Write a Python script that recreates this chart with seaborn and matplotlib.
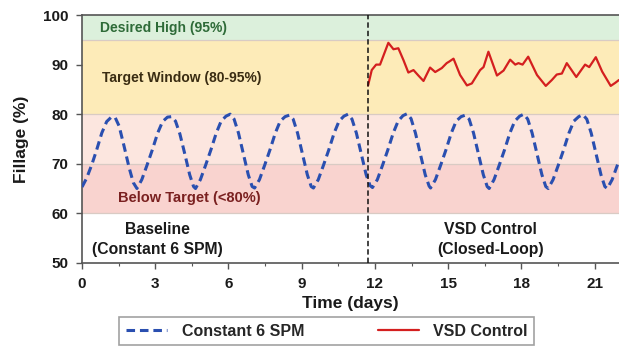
import numpy as np
import pandas as pd
import matplotlib
matplotlib.use("Agg")
import matplotlib.pyplot as plt
from matplotlib.lines import Line2D
from matplotlib.ticker import MultipleLocator
import seaborn as sns

# ---------------- data ----------------
base_t = [0.00, 0.19, 0.40, 0.60, 0.81, 1.01, 1.20, 1.36, 1.52, 1.72, 1.93, 2.10,
          2.25, 2.45, 2.67, 2.88, 3.10, 3.30, 3.50, 3.67, 3.83, 4.01, 4.21, 4.41, 4.57,
          4.65, 4.85, 5.07, 5.28, 5.50, 5.70, 5.90, 6.07, 6.23, 6.41, 6.61, 6.81, 6.97,
          7.07, 7.27, 7.49, 7.70, 7.92, 8.12, 8.32, 8.49, 8.65, 8.83, 9.03, 9.23, 9.39,
          9.48, 9.68, 9.90, 10.11, 10.33, 10.53, 10.73, 10.90, 11.06, 11.24, 11.44, 11.64, 11.80,
          11.90, 12.10, 12.32, 12.53, 12.75, 12.95, 13.15, 13.32, 13.48, 13.66, 13.86, 14.06, 14.22,
          14.28, 14.48, 14.70, 14.91, 15.13, 15.33, 15.53, 15.70, 15.86, 16.04, 16.24, 16.44, 16.60,
          16.68, 16.88, 17.10, 17.31, 17.53, 17.73, 17.93, 18.10, 18.26, 18.44, 18.64, 18.84, 19.00,
          19.10, 19.30, 19.52, 19.73, 19.95, 20.15, 20.35, 20.52, 20.68, 20.86, 21.06, 21.26, 21.42,
          21.52, 21.72, 21.94, 22.00]
base_v = [65.3, 67.1, 69.8, 72.8, 76.2, 78.5, 79.4, 79.3, 77.6, 73.6, 69.2, 66.2,
          65.0, 66.8, 69.8, 72.8, 76.2, 78.5, 79.4, 79.5, 78.6, 76.0, 72.0, 67.8, 65.4,
          65.0, 66.8, 69.8, 72.8, 76.2, 78.6, 79.6, 80.0, 79.0, 76.2, 72.0, 67.8, 65.4,
          65.1, 66.8, 69.8, 72.8, 76.2, 78.6, 79.5, 79.8, 79.0, 76.2, 72.0, 67.8, 65.4,
          65.1, 66.8, 69.8, 72.8, 76.2, 78.6, 79.6, 80.0, 79.0, 76.2, 72.0, 67.8, 65.6,
          65.2, 66.8, 69.8, 72.8, 76.2, 78.6, 79.7, 80.1, 79.1, 76.2, 72.0, 67.8, 65.5,
          65.1, 66.8, 69.8, 72.8, 76.2, 78.6, 79.5, 79.8, 79.0, 76.2, 72.0, 67.8, 65.4,
          65.0, 66.8, 69.8, 72.8, 76.2, 78.6, 79.6, 80.0, 79.0, 76.2, 72.0, 67.8, 65.4,
          65.0, 66.8, 69.8, 72.8, 76.2, 78.6, 79.5, 79.9, 79.0, 76.2, 72.0, 67.8, 65.4,
          65.0, 66.8, 69.8, 70.5]

vsd_t = [11.72, 11.87, 12.05, 12.21, 12.55, 12.76, 12.96, 13.17, 13.37, 13.58, 13.78, 13.99,
         14.26, 14.47, 14.74, 14.94, 15.04, 15.22, 15.49, 15.77, 15.97, 16.31, 16.45, 16.65,
         17.00, 17.27, 17.54, 17.75, 17.88, 18.05, 18.28, 18.64, 19.00, 19.25, 19.45, 19.66,
         19.86, 20.25, 20.61, 20.78, 21.05, 21.31, 21.66, 21.84, 22.00]
vsd_v = [85.8, 88.9, 90.0, 90.0, 94.4, 93.1, 93.3, 90.9, 88.4, 88.9, 87.8, 86.7,
         89.4, 88.5, 89.3, 90.3, 90.6, 91.2, 87.9, 85.8, 86.2, 88.9, 89.5, 92.6,
         87.8, 88.8, 91.0, 90.0, 90.3, 90.0, 91.6, 87.9, 85.7, 86.9, 88.0, 88.2,
         90.3, 87.5, 90.0, 89.5, 91.5, 88.6, 85.7, 86.3, 86.9]

switch_day = 11.72
bands = [(95, 100, "#dcf0dc"), (80, 95, "#fdebb8"), (70, 80, "#fce6df"), (60, 70, "#f9d3cf")]
band_labels = ["Desired High (95%)", "Target Window (80-95%)", "Below Target (<80%)"]
band_label_pos = [(0.72, 97.3), (0.82, 87.3), (1.48, 63.0)]
band_label_sizes = [10, 10, 10.5]
band_label_colors = ["#2e6b38", "#3a2c12", "#7a2020"]
phase_labels = ["Baseline\n(Constant 6 SPM)", "VSD Control\n(Closed-Loop)"]
phase_x = [3.1, 16.75]
series_names = ["Constant 6 SPM", "VSD Control"]
x_ticks = [0, 3, 6, 9, 12, 15, 18, 21]
y_ticks = [50, 60, 70, 80, 90, 100]

# ---------------- style ----------------
sns.set_style("white")
plt.rcParams["font.family"] = ["Liberation Sans", "DejaVu Sans"]
plt.rcParams["font.weight"] = "bold"

BLUE = "#2a4fb0"
RED = "#d41f1f"

fig = plt.figure(figsize=(6.19, 3.5), dpi=100)
ax = fig.add_axes([0.1325, 0.249, 0.8675, 0.708])

for lo, hi, col in bands:
    ax.axhspan(lo, hi, color=col, lw=0, zorder=0)
for yb in [60, 70, 80, 95]:
    ax.axhline(yb, color="#d9cbc4", lw=0.9, zorder=0.5)

df_base = pd.DataFrame({"t": base_t, "v": base_v})
df_vsd = pd.DataFrame({"t": vsd_t, "v": vsd_v})
sns.lineplot(data=df_base, x="t", y="v", ax=ax, color=BLUE, lw=2.2,
             linestyle=(0, (2.8, 1.6)), estimator=None, sort=False, legend=False, zorder=3)
sns.lineplot(data=df_vsd, x="t", y="v", ax=ax, color=RED, lw=1.6,
             estimator=None, sort=False, legend=False, zorder=4)

ax.axvline(switch_day, color="#111111", lw=1.1, linestyle=(0, (3.5, 2)), zorder=5)

for txt, (x, y), s, c in zip(band_labels, band_label_pos, band_label_sizes, band_label_colors):
    ax.text(x, y, txt, color=c, fontsize=s, fontweight="bold", va="center", ha="left")
for txt, x in zip(phase_labels, phase_x):
    ax.text(x, 54.7, txt, color="#1a1a1a", fontsize=11.3, fontweight="bold",
            ha="center", va="center", linespacing=1.45)

ax.set_xlim(0, 22)
ax.set_ylim(50, 100)
ax.set_xticks(x_ticks)
ax.set_yticks(y_ticks)
ax.xaxis.set_minor_locator(MultipleLocator(1.5))
ax.tick_params(axis="both", which="major", direction="out", length=4, width=1,
               color="#555555", labelsize=11, labelcolor="#1a1a1a")
ax.tick_params(axis="x", which="major", pad=6.5)
ax.tick_params(axis="y", which="major", pad=6)
ax.tick_params(axis="x", which="minor", direction="out", length=2.5, width=0.8,
               color="#555555", bottom=True)
ax.tick_params(axis="x", bottom=True)
ax.tick_params(axis="y", left=True)
for lab in ax.get_xticklabels() + ax.get_yticklabels():
    lab.set_fontweight("bold")

ax.set_xlabel("Time (days)", fontsize=12.5, fontweight="bold", color="#1a1a1a", labelpad=3)
ax.set_ylabel("Fillage (%)", fontsize=12.5, fontweight="bold", color="#1a1a1a", labelpad=10)

for side in ["left", "bottom", "top"]:
    ax.spines[side].set_visible(True)
    ax.spines[side].set_color("#555555")
    ax.spines[side].set_linewidth(1.2)
ax.spines["right"].set_visible(False)

handles = [Line2D([], [], color=BLUE, lw=2.2, linestyle=(0, (2.8, 1.6))),
           Line2D([], [], color=RED, lw=1.6)]
leg = fig.legend(handles, series_names, loc="center", bbox_to_anchor=(0.528, 0.054),
                 ncol=2, frameon=True, fancybox=False, edgecolor="#8a8a8a",
                 columnspacing=4.6, handlelength=2.6, handletextpad=0.9,
                 borderpad=0.4, borderaxespad=0, prop={"weight": "bold", "size": 11.5})
leg.get_frame().set_linewidth(1.2)

fig.savefig("out.png", dpi=100)
